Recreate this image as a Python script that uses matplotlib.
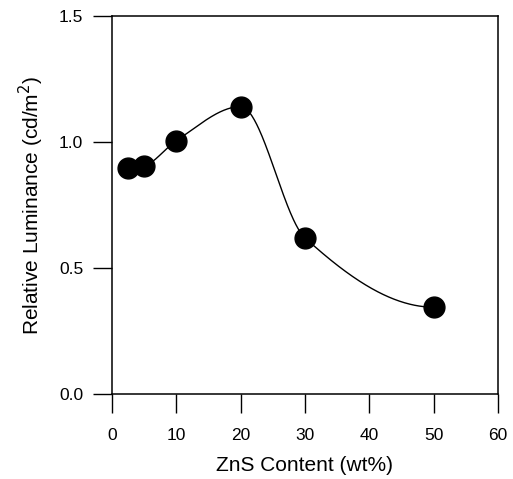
import numpy as np
import matplotlib
matplotlib.use("Agg")
import matplotlib.pyplot as plt

plt.rcParams['font.family'] = ['Liberation Sans', 'DejaVu Sans']

# ZnS content (wt%) and relative luminance
zns = [2.5, 5, 10, 20, 30, 50]
lum = [0.895, 0.905, 1.005, 1.14, 0.62, 0.345]

xticks = [0, 10, 20, 30, 40, 50, 60]
yticks = [0.0, 0.5, 1.0, 1.5]


def pchip(x, y, xs):
    # monotone cubic (Fritsch-Carlson), like the smooth line in the plot
    x = np.asarray(x, float)
    y = np.asarray(y, float)
    h = np.diff(x)
    d = np.diff(y) / h
    n = len(x)
    m = np.zeros(n)
    for i in range(1, n - 1):
        if d[i - 1] * d[i] > 0:
            w1 = 2 * h[i] + h[i - 1]
            w2 = h[i] + 2 * h[i - 1]
            m[i] = (w1 + w2) / (w1 / d[i - 1] + w2 / d[i])
    m[0] = ((2 * h[0] + h[1]) * d[0] - h[0] * d[1]) / (h[0] + h[1])
    if m[0] * d[0] <= 0:
        m[0] = 0
    m[-1] = ((2 * h[-1] + h[-2]) * d[-1] - h[-1] * d[-2]) / (h[-1] + h[-2])
    if m[-1] * d[-1] <= 0:
        m[-1] = 0
    out = np.empty_like(xs)
    for k, t in enumerate(xs):
        i = min(max(np.searchsorted(x, t) - 1, 0), n - 2)
        s = (t - x[i]) / h[i]
        h00 = 2 * s ** 3 - 3 * s ** 2 + 1
        h10 = s ** 3 - 2 * s ** 2 + s
        h01 = -2 * s ** 3 + 3 * s ** 2
        h11 = s ** 3 - s ** 2
        out[k] = h00 * y[i] + h10 * h[i] * m[i] + h01 * y[i + 1] + h11 * h[i] * m[i + 1]
    return out


fig = plt.figure(figsize=(5.13, 4.79), dpi=100)
ax = fig.add_axes([0.218, 0.177, 0.753, 0.79])

xs = np.linspace(zns[0], zns[-1], 400)
ax.plot(xs, pchip(zns, lum, xs), color='black', lw=1.0)
ax.plot(zns, lum, 'o', color='black', ms=15)

ax.set_xlim(0, 60)
ax.set_ylim(0, 1.5)
ax.set_xticks(xticks)
ax.set_yticks(yticks)
ax.set_yticklabels([f'{v:.1f}' for v in yticks])
ax.tick_params(axis='x', direction='out', length=13.5, width=1, pad=11, labelsize=12.5)
ax.tick_params(axis='y', direction='out', length=13.5, width=1, pad=7, labelsize=12.5)
for s in ax.spines.values():
    s.set_linewidth(1.1)

ax.set_xlabel('ZnS Content (wt%)', fontsize=15, labelpad=9)
ax.set_ylabel('Relative Luminance (cd/m$^2$)', fontsize=15, labelpad=9)

fig.savefig('out.png', dpi=100)
